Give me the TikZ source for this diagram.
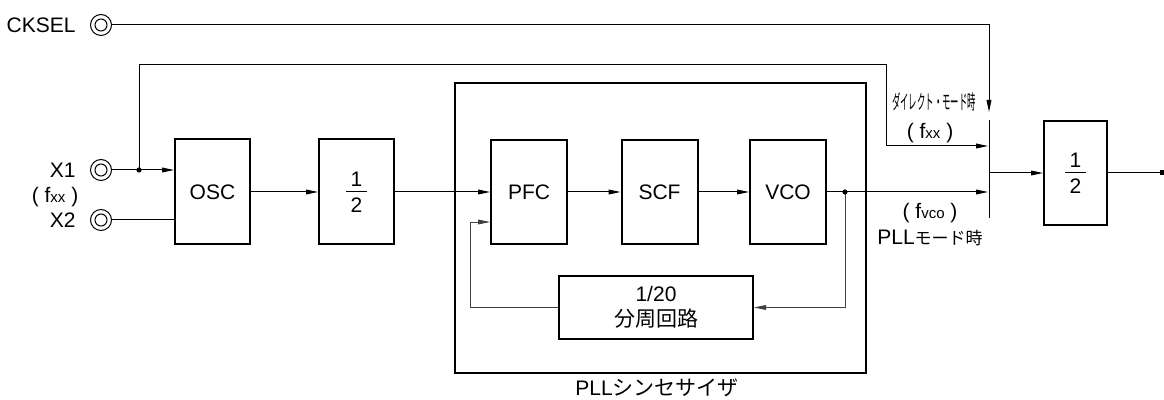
\documentclass[tikz,border=0pt]{standalone}
\usepackage{fontspec}
\usepackage{graphicx}
\setmainfont{Liberation Sans}
\newfontfamily\cjk{Noto Sans CJK JP}
\usetikzlibrary{arrows.meta, positioning}

\newcommand\subtxt[1]{{\fontsize{7.5}{8}\selectfont #1}}
\newcommand\halftxt{\vbox{\hbox to 10.5pt{\hss 1\hss}\kern2.5pt\hrule width 10.5pt height 0.5pt\kern2.5pt\hbox to 10.5pt{\hss 2\hss}}}

\begin{document}
\begin{tikzpicture}[x=0.5pt, y=-0.5pt, >={Triangle[length=6pt,width=2.4pt]},
    font=\fontsize{10.5}{12.5}\selectfont,
    block/.style={draw, line width=1pt, inner sep=0pt},
    wire/.style={line width=0.5pt},
    fbwire/.style={line width=0.4pt, black!75},
    term/.style={circle, draw, line width=0.5pt, minimum size=10.5pt, inner sep=0pt,
        path picture={\draw[line width=0.5pt] (path picture bounding box.center) circle (3pt);}},
    dot/.style={circle, fill, inner sep=0pt, minimum size=2.6pt},
    lbl/.style={inner sep=1pt}]
    \useasboundingbox (0,0) rectangle (1164,400);

    % Terminals
    \node[term] (cksel) at (101,25) {};
    \node[lbl, left=6pt of cksel] (cksellbl) {CKSEL};
    \node[term] (x1) at (101,170) {};
    \node[lbl, left=6pt of x1] (x1lbl) {X1};
    \node[lbl] (fxxin) at (55,197) {( f\subtxt{xx} )};
    \node[term] (x2) at (101,220) {};
    \node[lbl, left=6pt of x2] (x2lbl) {X2};

    % Blocks
    \node[block, minimum width=37.5pt, minimum height=52.5pt] (osc) at (212.5,192) {OSC};
    \node[block, minimum width=37.5pt, minimum height=52.5pt] (div2) at (356.5,192) {\halftxt};
    \node[block, minimum width=205.5pt, minimum height=145pt] (pll) at (660.5,228) {};
    \node[lbl] (plllbl) at (657,388) {PLL{\cjk シンセサイザ}};
    \node[block, minimum width=38pt, minimum height=52pt] (pfc) at (529,192) {PFC};
    \node[block, minimum width=38pt, minimum height=52pt] (scf) at (659.5,192) {SCF};
    \node[block, minimum width=38pt, minimum height=52pt] (vco) at (788,192) {VCO};
    \node[block, minimum width=97pt, minimum height=31.5pt, align=center] (fdiv) at (656,307.5) {1/20\\{\cjk 分周回路}};
    \node[block, minimum width=31.5pt, minimum height=52pt] (div2out) at (1075.5,173) {\halftxt};

    % Points
    \coordinate (jx) at (139,170);
    \coordinate (jvco) at (845,192);
    \coordinate (dcorner) at (886,65);
    \coordinate (fbturn) at (470,222);
    \coordinate (swtop) at (989,120);
    \coordinate (swbot) at (989,218);
    \coordinate (swdir) at (988,146);
    \coordinate (swpll) at (988,192);
    \coordinate (swout) at (989,173);
    \coordinate (selin) at (989,112);
    \coordinate (outend) at (1162,173);

    % Wires
    \draw[wire] (x1.east) -- (jx);
    \draw[wire, ->] (jx) -- (osc.west |- jx);
    \draw[wire] (x2.east) -- (osc.west |- x2);
    \draw[wire, ->] (osc.east) -- (div2.west);
    \draw[wire, ->] (div2.east) -- (pfc.west);
    \draw[wire, ->] (pfc.east) -- (scf.west);
    \draw[wire, ->] (scf.east) -- (vco.west);
    \draw[wire, ->] (vco.east) -- (swpll);
    \draw[fbwire, ->] (jvco) |- (fdiv.east);
    \draw[fbwire, ->] (fdiv.west) -| (fbturn) -- (pfc.west |- fbturn);
    \draw[wire, ->] (jx) |- (dcorner) |- (swdir);
    \draw[wire, ->] (cksel.east) -| (selin);
    \draw[wire] (swtop) -- (swbot);
    \draw[wire, ->] (swout) -- (div2out.west);
    \draw[wire] (div2out.east) -- (outend);
    \node[dot] (jxdot) at (jx) {};
    \node[dot] (jvcodot) at (jvco) {};
    \node[fill, inner sep=0pt, minimum size=2.5pt] (outmark) at (outend) {};

    % Mode labels
    \node[lbl] (dirlbl) at (934,102) {\scalebox{0.42}[1]{\cjk\fontsize{10}{11}\selectfont ダイレクト・モード時}};
    \node[lbl] (fxxlbl) at (930,133) {( f\subtxt{xx} )};
    \node[lbl] (fvcolbl) at (930,213) {( f\subtxt{vco} )};
    \node[lbl] (pllmode) at (930,238) {PLL{\cjk\fontsize{8.5}{10}\selectfont モード時}};
\end{tikzpicture}
\end{document}
